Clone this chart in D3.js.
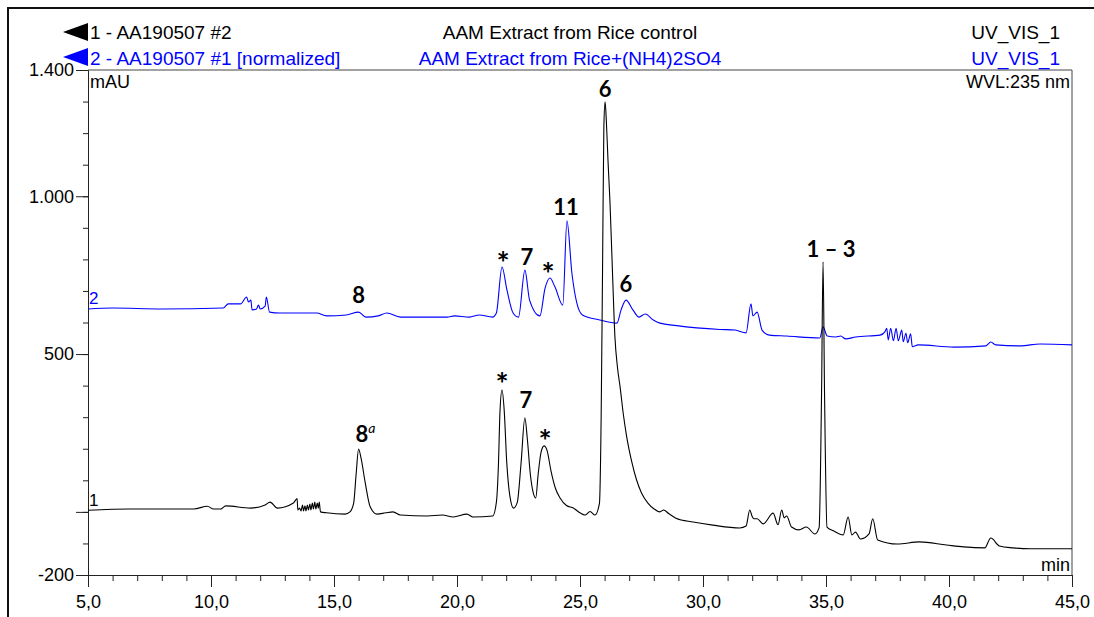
<!DOCTYPE html>
<html>
<head>
<meta charset="utf-8">
<script src="https://cdn.jsdelivr.net/npm/d3@7"></script>
<style>
  html, body { margin: 0; padding: 0; background: #fff; }
  svg { display: block; }
  text { font-family: "Liberation Sans", Arial, sans-serif; }
  .peak { font-family: Lato, "Open Sans", sans-serif; font-weight: 700; font-size: 22px; }
  .peak.star { font-size: 31px; }
</style>
</head>
<body>
<svg id="chart" width="1094" height="617"></svg>
<script>
// Retention time (min) / absorbance (mAU) for the control extract (trace 1)
const controlTrace = [
  [5.0, 5], [6.7, 9], [9.3, 9], [9.85, 18], [10.1, 9], [10.4, 9], [10.6, 19], [11.6, 12],
  [12.2, 22], [12.4, 31], [12.7, 12], [13.35, 28], [13.5, 42], [13.53, 6], [13.6, 12],
  [13.66, 3], [13.72, 22], [13.76, 3], [13.82, 19], [13.86, 3], [13.92, 22], [13.96, 6],
  [14.02, 25], [14.06, 6], [14.12, 28], [14.16, 9], [14.22, 31], [14.26, 9], [14.32, 28],
  [14.36, 12], [14.4, 31], [14.45, 0], [14.7, -3], [15.45, -7], [15.65, 0], [15.8, 28],
  [15.9, 120], [16.0, 199], [16.1, 170], [16.27, 92], [16.47, 16], [16.75, -7], [17.1, -3],
  [17.4, 0], [17.7, -10], [18.8, -13], [19.4, -10], [19.85, -16], [20.4, -7], [20.65, -16],
  [21.45, -13], [21.6, 30], [21.68, 140], [21.75, 323], [21.83, 386], [21.92, 320],
  [22.02, 160], [22.15, 50], [22.3, 12], [22.45, 30], [22.6, 150], [22.76, 298], [22.86, 230],
  [22.98, 120], [23.1, 60], [23.2, 44], [23.3, 120], [23.42, 190], [23.54, 209], [23.66, 195],
  [23.82, 130], [24.0, 75], [24.19, 44], [24.45, 20], [24.73, 12], [25.0, -3], [25.2, -10],
  [25.41, 1], [25.61, -10], [25.79, 27], [25.86, 300], [25.92, 800], [25.97, 1220],
  [26.02, 1299], [26.07, 1240], [26.14, 1110], [26.22, 979], [26.32, 760], [26.42, 554],
  [26.52, 460], [26.63, 396], [26.76, 310], [26.9, 237], [27.1, 160], [27.3, 101], [27.5, 60],
  [27.76, 28], [28.0, 10], [28.25, 0], [28.4, 6], [28.6, -5], [28.9, -20], [29.6, -32],
  [30.4, -42], [31.5, -51], [31.75, -45], [31.9, 6], [32.0, -15], [32.07, -22], [32.2, -22],
  [32.45, -38], [32.85, -4], [33.05, -41], [33.2, 6], [33.3, -19], [33.4, -13], [33.6, -48],
  [33.9, -57], [34.2, -48], [34.55, -70], [34.72, -50], [34.82, 380], [34.88, 792],
  [34.94, 380], [35.04, -48], [35.3, -60], [35.7, -73], [35.9, -16], [36.05, -73], [36.2, -64],
  [36.4, -86], [36.75, -70], [36.9, -22], [37.1, -89], [37.9, -102], [38.8, -95], [39.9, -105],
  [40.6, -111], [41.45, -114], [41.7, -83], [42.05, -108], [42.6, -114], [43.3, -117], [45.0, -117]
];

// Retention time (min) / normalized, offset absorbance for the (NH4)2SO4 extract (trace 2)
const sulfateTrace = [
  [5.0, 643], [6.0, 646], [8.0, 643], [10.5, 646], [10.7, 659], [11.2, 659], [11.45, 681],
  [11.52, 665], [11.62, 671], [11.67, 640], [11.85, 643], [11.93, 655], [12.0, 643],
  [12.2, 652], [12.25, 681], [12.38, 633], [12.8, 630], [14.3, 630], [14.7, 621], [15.5, 624],
  [16.0, 633], [16.3, 617], [16.8, 621], [17.15, 630], [17.7, 617], [18.5, 617], [19.6, 617],
  [19.9, 621], [20.5, 617], [20.9, 624], [21.45, 617], [21.6, 630], [21.83, 776], [22.03, 703],
  [22.28, 630], [22.5, 617], [22.76, 766], [22.95, 671], [23.37, 621], [23.58, 709],
  [23.78, 741], [23.98, 713], [24.3, 655], [24.47, 922], [24.67, 757], [24.87, 662],
  [25.1, 624], [25.8, 608], [26.5, 598], [26.67, 640], [26.87, 671], [27.15, 640], [27.4, 617],
  [27.65, 627], [27.98, 608], [28.25, 598], [28.93, 590], [30.69, 578], [31.3, 576],
  [31.75, 567], [31.95, 659], [32.03, 621], [32.2, 633], [32.4, 576], [32.7, 560], [33.4, 557],
  [34.75, 551], [34.88, 586], [35.05, 557], [35.4, 554], [35.6, 557], [35.8, 548], [36.2, 554],
  [37.2, 560], [37.4, 571], [37.47, 582], [37.53, 545], [37.63, 582], [37.74, 542], [37.85, 582],
  [37.94, 542], [38.08, 576], [38.14, 539], [38.25, 566], [38.32, 536], [38.44, 564],
  [38.51, 523], [38.75, 529], [40.2, 522], [41.5, 526], [41.7, 538], [41.9, 529], [42.9, 526],
  [43.7, 532], [45.0, 529]
];

// Peak annotations: compound id, retention time, peak height, label offsets
const controlPeaks = [
  { id: "6", t: 26.02, v: 1299, dx: 0, dy: -5 },
  { id: "1 \u2013 3", t: 34.88, v: 792, dx: 8, dy: -5 },
  { id: "*", t: 21.83, v: 386, dx: 0, dy: 5 },
  { id: "7", t: 22.76, v: 298, dx: 1, dy: -10 },
  { id: "*", t: 23.54, v: 209, dx: 1, dy: 6 },
  { id: "8", sup: "a", t: 16.0, v: 199, dx: 3, dy: -7 }
];
const sulfatePeaks = [
  { id: "11", t: 24.47, v: 922, dx: -1, dy: -6 },
  { id: "*", t: 21.83, v: 776, dx: 1, dy: 7 },
  { id: "7", t: 22.76, v: 766, dx: 2, dy: -5 },
  { id: "*", t: 23.78, v: 741, dx: -2, dy: 7 },
  { id: "6", t: 26.87, v: 671, dx: 0, dy: -8 },
  { id: "8", t: 16.0, v: 633, dx: 0, dy: -9 }
];

const xMajorTicks = [5, 10, 15, 20, 25, 30, 35, 40, 45];
const xMinorTicks = d3.range(5, 46, 1);
const yMajorTicks = [-200, 500, 1000, 1400];
const yMinorTicks = d3.range(-200, 1401, 100);

const headerRows = [
  { left: "1 - AA190507 #2", center: "AAM Extract from Rice control", right: "UV_VIS_1", color: "#000" },
  { left: "2 - AA190507 #1 [normalized]", center: "AAM Extract from Rice+(NH4)2SO4", right: "UV_VIS_1", color: "#0000ff" }
];

const BLUE = "#0000ff";
const svg = d3.select("#chart");
const plot = { left: 88, right: 1072, top: 70, bottom: 575 };

const x = d3.scaleLinear().domain([5, 45]).range([plot.left, plot.right]);
const y = d3.scaleLinear().domain([-200, 1400]).range([plot.bottom, plot.top]);

const locale = d3.formatLocale({ decimal: ",", thousands: ".", grouping: [3], currency: ["", ""], minus: "-" });
const fmtY = locale.format(",d");
const fmtX = locale.format(".1f");

// outer frame
svg.append("rect").attr("x", 8).attr("y", 8).attr("width", 1100).attr("height", 640)
  .attr("fill", "none").attr("stroke", "#111").attr("stroke-width", 2);

// plot frame (top and right edges)
svg.append("path")
  .attr("d", `M${plot.left},${plot.top}H${plot.right}V${plot.bottom}`)
  .attr("fill", "none").attr("stroke", "#444").attr("stroke-width", 1);

// header
headerRows.forEach((r, i) => {
  const by = 39 + i * 26;
  svg.append("text").attr("x", 90).attr("y", by).attr("fill", r.color)
    .attr("font-size", 19).text(r.left);
  svg.append("text").attr("x", 570).attr("y", by).attr("fill", r.color)
    .attr("text-anchor", "middle").attr("font-size", 19).text(r.center);
  svg.append("text").attr("x", 1060).attr("y", by).attr("fill", r.color)
    .attr("text-anchor", "end").attr("font-size", 19).text(r.right);
  svg.append("path")
    .attr("d", `M63,${32 + i * 25}L88,${23 + i * 25}L88,${41 + i * 25}Z`)
    .attr("fill", r.color);
});

svg.append("text").attr("x", 90).attr("y", 88).attr("font-size", 18).text("mAU");
svg.append("text").attr("x", 1070).attr("y", 88).attr("font-size", 18)
  .attr("text-anchor", "end").text("WVL:235 nm");
svg.append("text").attr("x", 1070).attr("y", 571).attr("font-size", 18)
  .attr("text-anchor", "end").text("min");

// axes
function styleAxis(g) {
  g.selectAll("path.domain").attr("stroke", "#222");
  g.selectAll(".tick line").attr("stroke", "#222");
  g.selectAll("text").attr("font-size", 18).attr("font-family", "'Liberation Sans', Arial, sans-serif").attr("fill", "#000");
}

svg.append("g").attr("transform", `translate(${plot.left},0)`)
  .call(d3.axisLeft(y).tickValues(yMinorTicks).tickSize(5).tickSizeOuter(0).tickFormat(""))
  .call(styleAxis);
svg.append("g").attr("transform", `translate(${plot.left},0)`)
  .call(d3.axisLeft(y).tickValues(yMajorTicks.concat([0])).tickSize(12).tickSizeOuter(0).tickPadding(2)
    .tickFormat(d => yMajorTicks.includes(d) ? fmtY(d) : ""))
  .call(styleAxis);

svg.append("g").attr("transform", `translate(0,${plot.bottom})`)
  .call(d3.axisBottom(x).tickValues(xMinorTicks).tickSize(6).tickSizeOuter(0).tickFormat(""))
  .call(styleAxis);
svg.append("g").attr("transform", `translate(0,${plot.bottom})`)
  .call(d3.axisBottom(x).tickValues(xMajorTicks).tickSize(12).tickSizeOuter(0).tickPadding(8)
    .tickFormat(fmtX))
  .call(styleAxis);

// traces
const line = d3.line().x(d => x(d[0])).y(d => y(d[1])).curve(d3.curveMonotoneX);

svg.append("path").datum(sulfateTrace).attr("d", line)
  .attr("fill", "none").attr("stroke", BLUE).attr("stroke-width", 1.1);
svg.append("path").datum(controlTrace).attr("d", line)
  .attr("fill", "none").attr("stroke", "#000").attr("stroke-width", 1.1);

// trace numbers at the left edge
svg.append("text").attr("x", 89).attr("y", y(sulfateTrace[0][1]) - 5)
  .attr("font-size", 17).attr("fill", BLUE).text("2");
svg.append("text").attr("x", 89).attr("y", y(controlTrace[0][1]) - 4)
  .attr("font-size", 17).attr("fill", "#000").text("1");

// peak labels
function drawPeaks(peaks) {
  peaks.forEach(p => {
    const t = svg.append("text").attr("class", p.id === "*" ? "peak star" : "peak")
      .attr("x", x(p.t) + p.dx).attr("y", y(p.v) + p.dy)
      .attr("text-anchor", "middle").attr("fill", "#000");
    t.append("tspan").text(p.id);
    if (p.sup) {
      t.append("tspan").attr("font-size", 14).attr("font-style", "italic").attr("font-weight", 400)
        .attr("dy", -9).text(p.sup);
      t.attr("text-anchor", "start").attr("x", x(p.t) + p.dx - 6);
    }
  });
}
drawPeaks(controlPeaks);
drawPeaks(sulfatePeaks);
</script>
</body>
</html>
